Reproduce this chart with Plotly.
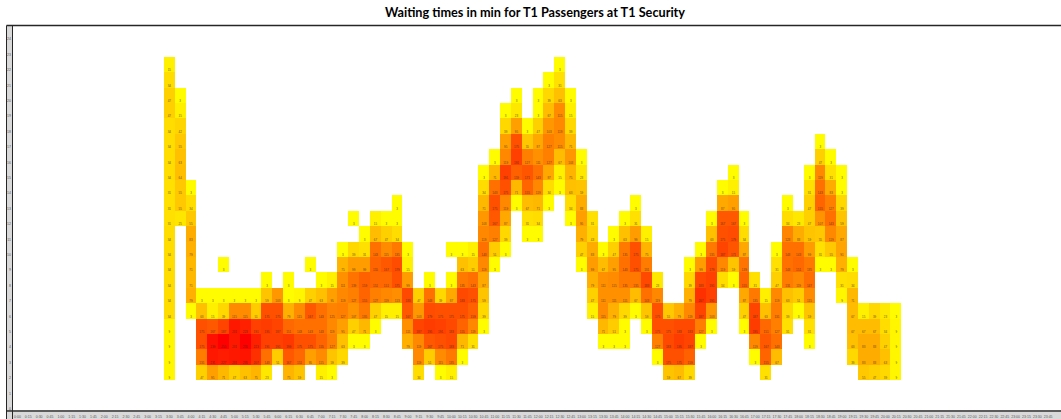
import plotly.graph_objects as go

TITLE = "Waiting times in min for T1 Passengers at T1 Security"

# time slots every 15 minutes, 00:00 .. 24:00
time_labels = [f"{h}:{m:02d}" for h in range(25) for m in (0, 15, 30, 45)][:97]
# waiting time bins, bottom to top
wait_labels = [str(i) for i in range(25)]
FIRST_SLOT = 14   # first slot with data (3:30)
TOP_BIN = 22      # wait bin of row_00

# passengers per slot offset, one dict per waiting-time bin, top row first
row_00 = {0:15, 36:3}
row_01 = {0:34, 35:3, 36:31}
row_02 = {0:47, 1:3, 32:3, 34:3, 35:39, 36:63, 37:3}
row_03 = {0:47, 1:15, 31:3, 32:23, 34:3, 35:67, 36:115, 37:15}
row_04 = {0:34, 1:42, 31:39, 32:95, 33:3, 34:47, 35:103, 36:119, 37:39}
row_05 = {0:34, 1:55, 31:95, 32:175, 33:55, 34:87, 35:127, 36:115, 37:71, 60:3}
row_06 = {0:34, 1:63, 30:3, 31:119, 32:191, 33:127, 34:111, 35:127, 36:67, 37:103, 38:3, 60:47, 61:3}
row_07 = {0:34, 1:64, 29:3, 30:71, 31:191, 32:159, 33:171, 34:143, 35:87, 36:15, 37:75, 38:23, 52:3, 59:3, 60:119, 61:31, 62:3}
row_08 = {0:31, 1:55, 2:3, 29:34, 30:143, 31:175, 32:71, 33:155, 34:119, 35:34, 36:3, 37:63, 38:59, 51:3, 52:15, 59:31, 60:143, 61:83, 62:3}
row_09 = {0:31, 1:55, 2:34, 21:3, 29:71, 30:175, 31:119, 32:3, 33:67, 34:71, 35:3, 37:34, 38:83, 43:3, 51:87, 52:95, 57:3, 59:47, 60:155, 61:127, 62:39}
row_10 = {0:31, 1:25, 2:55, 17:3, 19:15, 20:3, 21:3, 29:103, 30:167, 31:87, 33:31, 34:34, 37:3, 38:95, 39:31, 42:3, 43:31, 50:3, 51:167, 52:167, 53:3, 57:34, 58:23, 59:47, 60:107, 61:143, 62:59}
row_11 = {0:34, 2:83, 18:3, 19:67, 20:47, 21:34, 29:119, 30:127, 31:39, 33:3, 34:3, 38:79, 39:43, 41:3, 42:63, 43:99, 44:15, 50:63, 51:175, 52:179, 53:34, 57:123, 58:83, 59:59, 60:55, 61:119, 62:87}
row_12 = {0:34, 2:79, 16:3, 17:39, 18:31, 19:143, 20:115, 21:135, 22:3, 26:3, 27:3, 28:15, 29:143, 30:51, 31:3, 38:47, 39:83, 40:3, 41:47, 42:135, 43:175, 44:75, 49:3, 50:135, 51:187, 52:171, 53:87, 56:3, 57:143, 58:143, 59:99, 60:31, 61:55, 62:91}
row_13 = {0:34, 2:71, 5:3, 13:3, 16:75, 17:99, 18:99, 19:155, 20:167, 21:179, 22:15, 27:63, 28:51, 29:119, 30:3, 38:3, 39:99, 40:67, 41:95, 42:143, 43:175, 44:131, 48:3, 49:99, 50:179, 51:119, 52:59, 53:139, 56:31, 57:143, 58:151, 59:135, 60:3, 61:3, 62:79, 63:3}
row_14 = {0:34, 2:71, 9:3, 11:3, 14:3, 15:15, 16:111, 17:139, 18:159, 19:151, 20:151, 21:175, 22:99, 24:3, 26:3, 27:135, 28:143, 29:87, 39:79, 40:111, 41:115, 42:135, 43:135, 44:183, 45:23, 48:39, 49:183, 50:191, 51:34, 52:3, 53:155, 54:31, 56:47, 57:131, 58:119, 59:147, 62:31, 63:34}
row_15 = {0:34, 2:79, 3:3, 4:3, 5:3, 6:3, 7:3, 8:3, 9:59, 10:103, 11:3, 12:9, 13:47, 14:63, 15:95, 16:119, 17:127, 18:155, 19:127, 20:119, 21:113, 22:183, 23:47, 24:143, 25:39, 26:87, 27:183, 28:175, 29:59, 39:47, 40:111, 41:111, 42:111, 43:67, 44:143, 45:119, 48:79, 49:207, 50:191, 53:87, 54:135, 55:15, 56:119, 57:63, 58:51, 59:115, 62:9, 63:71}
row_16 = {0:34, 2:3, 3:63, 4:15, 5:39, 6:115, 7:115, 8:51, 9:175, 10:175, 11:79, 12:115, 13:167, 14:143, 15:125, 16:127, 17:107, 18:135, 19:47, 20:15, 21:15, 22:167, 23:103, 24:179, 25:175, 26:175, 27:175, 28:159, 29:39, 39:15, 40:115, 41:79, 42:39, 43:3, 44:59, 45:175, 46:55, 47:79, 48:119, 49:187, 50:103, 53:47, 54:187, 55:63, 56:131, 57:39, 58:3, 59:59, 63:67, 64:15, 65:39, 66:23, 67:3}
row_17 = {0:9, 3:175, 4:167, 5:187, 6:231, 7:223, 8:191, 9:195, 10:187, 11:151, 12:143, 13:143, 14:143, 15:119, 16:95, 17:47, 18:71, 19:3, 22:111, 23:187, 24:195, 25:191, 26:183, 27:155, 28:119, 29:3, 40:71, 41:51, 42:3, 44:3, 45:175, 46:175, 47:183, 48:183, 49:127, 50:3, 53:3, 54:195, 55:151, 56:127, 57:31, 59:31, 63:67, 64:67, 65:67, 66:34, 67:9}
row_18 = {0:9, 3:175, 4:239, 5:255, 6:231, 7:255, 8:223, 9:191, 10:191, 11:199, 12:175, 13:175, 14:155, 15:127, 16:63, 17:3, 18:3, 22:79, 23:119, 24:167, 25:175, 26:183, 27:71, 28:31, 40:3, 41:3, 42:3, 45:127, 46:183, 47:195, 48:187, 49:3, 54:119, 55:167, 56:143, 59:3, 63:63, 64:83, 65:83, 66:47, 67:9}
row_19 = {0:9, 3:131, 4:231, 5:227, 6:231, 7:235, 8:207, 9:143, 10:51, 11:167, 12:151, 13:95, 14:115, 15:59, 16:39, 23:119, 24:51, 25:115, 26:135, 27:3, 45:3, 46:175, 47:175, 48:159, 54:3, 55:155, 56:67, 63:39, 64:83, 65:83, 66:63, 67:9}
row_20 = {0:9, 3:47, 4:95, 5:71, 6:47, 7:63, 8:75, 9:23, 11:75, 12:59, 14:15, 15:3, 23:34, 25:3, 26:15, 46:59, 47:67, 48:39, 55:31, 64:55, 65:47, 66:39, 67:9}

rows = [row_00, row_01, row_02, row_03, row_04, row_05, row_06, row_07, row_08, row_09, row_10,
        row_11, row_12, row_13, row_14, row_15, row_16, row_17, row_18, row_19, row_20]

n_x, n_y = len(time_labels), len(wait_labels)
z = [[None] * n_x for _ in range(n_y)]
tx, ty, tt = [], [], []
for i, row in enumerate(rows):
    yi = TOP_BIN - i
    for off, v in row.items():
        xi = FIRST_SLOT + off
        z[yi][xi] = v
        tx.append(xi)
        ty.append(yi - 0.39)
        tt.append(str(v))

W, H = 1061, 419
L, T, B = 12, 26, 8
CELL_W = 10.85

fig = go.Figure()
fig.add_trace(go.Heatmap(
    z=z, x=list(range(n_x)), y=list(range(n_y)),
    colorscale=[[0, "#FFFF00"], [1, "#FF0000"]], zmin=0, zmax=255,
    showscale=False, hoverongaps=False, xgap=0, ygap=0,
))
fig.add_trace(go.Scatter(
    x=tx, y=ty, text=tt, mode="text", hoverinfo="skip", showlegend=False,
    textfont=dict(size=3, family="Liberation Sans", color="rgba(60,40,0,0.8)"),
))

plot_w = W - L
frame = "#262626"
band = "#D9D9D9"
def px(x): return (x - L) / plot_w
def py(y): return (H - B - y) / (H - T - B)
def rect(x0, y0, x1, y1, fill):
    return dict(type="rect", xref="paper", yref="paper", x0=px(x0), x1=px(x1), y0=py(y0), y1=py(y1),
                fillcolor=fill, line=dict(width=0), layer="below")
def line(x0, y0, x1, y1, w):
    return dict(type="line", xref="paper", yref="paper", x0=px(x0), x1=px(x1), y0=py(y0), y1=py(y1),
                line=dict(color=frame, width=w), layer="above")

fig.update_layout(
    width=W, height=H,
    margin=dict(l=L, r=0, t=T, b=B, pad=0, autoexpand=False),
    paper_bgcolor="white", plot_bgcolor="white",
    showlegend=False,
    title=dict(text=f"<b>{TITLE}</b>", x=535 / W, xanchor="center", y=1 - 12.5 / H, yanchor="middle",
               font=dict(family="Lato", size=12.7, color="#000000")),
    xaxis=dict(range=[-0.5, -0.5 + plot_w / CELL_W], tickmode="array",
               tickvals=list(range(n_x)), ticktext=time_labels, tickangle=0,
               showgrid=False, zeroline=False, ticks="", showline=False, ticklabelstandoff=2,
               tickfont=dict(size=3.5, family="Liberation Sans", color="#595959"), automargin=False),
    yaxis=dict(range=[-0.5, n_y - 0.5], tickmode="array",
               tickvals=[i - 0.35 for i in range(n_y)], ticktext=wait_labels,
               showgrid=False, zeroline=False, ticks="", showline=False,
               tickfont=dict(size=3.5, family="Liberation Sans", color="#595959"), automargin=False),
    shapes=[
        rect(7, T, L, H - B, band),
        rect(7, H - B + 1, W, H, band),
        line(6.5, T - 0.5, W, T - 0.5, 1.5),
        line(6.5, H - B, W, H - B, 1.5),
        line(6.5, T - 0.5, 6.5, H, 1),
        line(12.5, T - 0.5, 12.5, H, 1),
    ],
)
fig.write_html("out.html", config={"displayModeBar": False},
               post_script="document.body.style.margin='0';document.documentElement.style.overflow='hidden';")
